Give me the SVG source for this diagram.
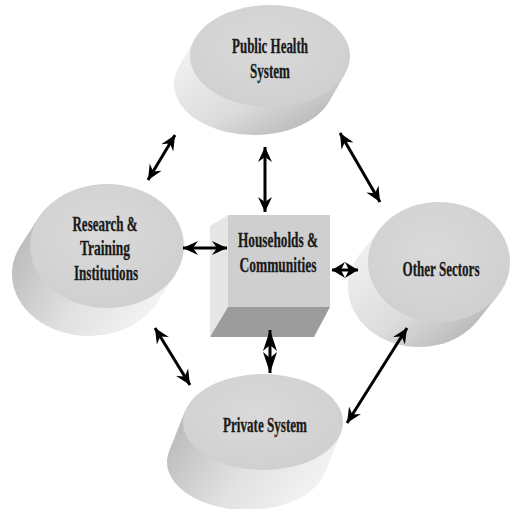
<svg xmlns="http://www.w3.org/2000/svg" width="511" height="509" viewBox="0 0 511 509">
<defs>
<linearGradient id="sideA" x1="0" y1="0" x2="1" y2="1">
<stop offset="0" stop-color="#f6f6f6"/><stop offset="0.55" stop-color="#dcdcdc"/><stop offset="1" stop-color="#a9a9a9"/>
</linearGradient>
<linearGradient id="sideB" x1="0" y1="0" x2="1" y2="0.4">
<stop offset="0" stop-color="#b4b4b4"/><stop offset="0.6" stop-color="#e2e2e2"/><stop offset="1" stop-color="#f2f2f2"/>
</linearGradient>
<radialGradient id="top" cx="0.45" cy="0.4" r="0.65">
<stop offset="0" stop-color="#dadada"/><stop offset="1" stop-color="#cfcfcf"/>
</radialGradient>
<marker id="ah" viewBox="0 0 16 16" markerWidth="16" markerHeight="16" refX="15" refY="8" orient="auto-start-reverse" markerUnits="userSpaceOnUse">
<path d="M0,1 L15,8 L0,15 L5,8 Z" fill="#000"/>
</marker>
<marker id="ahs" viewBox="0 0 13 16" markerWidth="13" markerHeight="16" refX="13" refY="8" orient="auto-start-reverse" markerUnits="userSpaceOnUse">
<path d="M0,0 L13,8 L0,16 L4,8 Z" fill="#000"/>
</marker>
<marker id="ahl" viewBox="0 0 21 14" markerWidth="21" markerHeight="14" refX="21" refY="7" orient="auto-start-reverse" markerUnits="userSpaceOnUse">
<path d="M0,0 L21,7 L0,14 L6,7 Z" fill="#000"/>
</marker>
<style>
.top{fill:url(#top)}
.lbl{font-family:"Liberation Serif","Times New Roman",serif;font-weight:bold;font-size:21px;fill:#1a1a1a;stroke:#1a1a1a;stroke-width:0.3;text-anchor:middle}
.arr{stroke:#000;stroke-width:3;fill:none;marker-start:url(#ah);marker-end:url(#ah)}
.arr-s{stroke:#000;stroke-width:3;fill:none;marker-start:url(#ahs);marker-end:url(#ahs)}
.arr-l{stroke:#000;stroke-width:3;fill:none;marker-start:url(#ahl);marker-end:url(#ahl)}
</style>
</defs>
<rect width="511" height="509" fill="#fff"/>

<g id="public-health">
<path d="M345.2,73.5 L329.2,101.5 A80,51 0 0 1 178.8,66.5 L194.8,38.5 Z" fill="url(#sideA)"/>
<ellipse class="top" cx="270" cy="56" rx="80" ry="51"/>
<text class="lbl" x="270" y="53" textLength="76" lengthAdjust="spacingAndGlyphs">Public Health</text>
<text class="lbl" x="270" y="78" textLength="40" lengthAdjust="spacingAndGlyphs">System</text>
</g>

<g id="research">
<path d="M175.4,274.5 L157.4,302.5 A77,62 0 0 1 20.6,245.5 L38.6,217.5 Z" fill="url(#sideB)"/>
<ellipse class="top" cx="107" cy="246" rx="77" ry="62"/>
<text class="lbl" x="105" y="231" textLength="65" lengthAdjust="spacingAndGlyphs">Research &amp;</text>
<text class="lbl" x="105" y="255" textLength="50" lengthAdjust="spacingAndGlyphs">Training</text>
<text class="lbl" x="106" y="280" textLength="64" lengthAdjust="spacingAndGlyphs">Institutions</text>
</g>

<g id="other-sectors">
<path d="M498.1,295.3 L478.1,320.3 A71,60 0 0 1 359.9,253.7 L379.9,228.7 Z" fill="url(#sideA)"/>
<ellipse class="top" cx="439" cy="262" rx="71" ry="60"/>
<text class="lbl" x="441" y="276" textLength="77" lengthAdjust="spacingAndGlyphs">Other Sectors</text>
</g>

<g id="private-system">
<path d="M340.8,433.2 L324.8,473.2 A80,48 0 0 1 169.2,450.8 L185.2,410.8 Z" fill="url(#sideB)"/>
<ellipse class="top" cx="263" cy="422" rx="80" ry="48"/>
<text class="lbl" x="265" y="432" textLength="84" lengthAdjust="spacingAndGlyphs">Private System</text>
</g>

<g id="households">
<polygon points="210,226 228,215 228,307 210,337" fill="#e6e6e6"/>
<rect x="228" y="215" width="102" height="92" fill="#cfcfcf"/>
<polygon points="228,307 330,307 314,337 210,337" fill="#9c9c9c"/>
<text class="lbl" x="278" y="247" textLength="80" lengthAdjust="spacingAndGlyphs">Households &amp;</text>
<text class="lbl" x="278" y="272" textLength="77" lengthAdjust="spacingAndGlyphs">Communities</text>
</g>

<g id="connectors">
<line class="arr" x1="175" y1="135" x2="148" y2="180"/>
<line class="arr" x1="265" y1="147" x2="265" y2="212"/>
<line class="arr" x1="340" y1="133" x2="380" y2="202"/>
<line class="arr" x1="183" y1="248" x2="227" y2="248"/>
<line class="arr-s" x1="332" y1="270" x2="358" y2="270"/>
<line class="arr-l" x1="270" y1="330" x2="270" y2="373"/>
<line class="arr" x1="155" y1="328" x2="190" y2="385"/>
<line class="arr" x1="407" y1="328" x2="347" y2="423"/>
</g>
</svg>
